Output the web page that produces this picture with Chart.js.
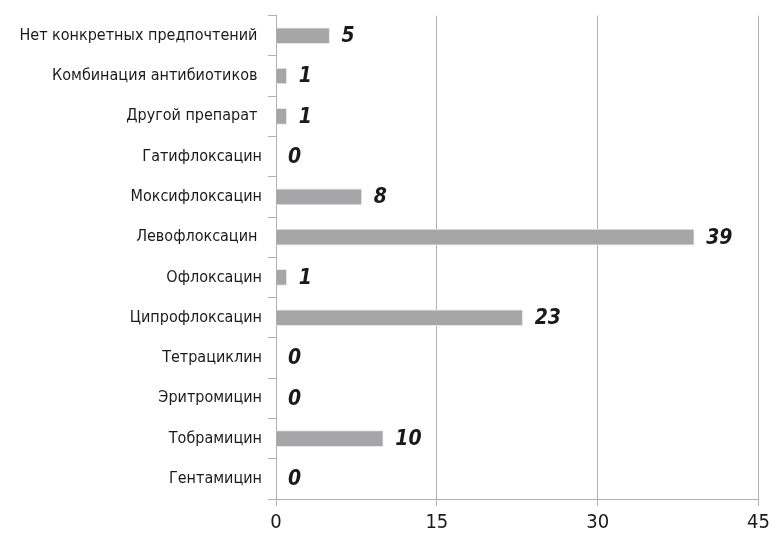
<!DOCTYPE html>
<html>
<head>
    <meta charset="UTF-8">
    <title>Антибиотики</title>
    <style>
        html, body { margin: 0; padding: 0; background: #fff; }
        #wrap { width: 775px; height: 535px; }
    </style>
</head>
<body>
<div id="wrap"><canvas id="myChart"></canvas></div>
<script src="https://cdn.jsdelivr.net/npm/chart.js@4/dist/chart.umd.min.js"></script>
<script>
    var labels = ['Нет конкретных предпочтений ', 'Комбинация антибиотиков ', 'Другой препарат ', 'Гатифлоксацин',
        'Моксифлоксацин', 'Левофлоксацин ', 'Офлоксацин', 'Ципрофлоксацин', 'Тетрациклин',
        'Эритромицин', 'Тобрамицин', 'Гентамицин'];
    var values = [5, 1, 1, 0, 8, 39, 1, 23, 0, 0, 10, 0];
    var xTicks = [0, 15, 30, 45];

    var fontFamily = '"DejaVu Sans Condensed", "Liberation Sans Narrow", Arial, sans-serif';

    // value labels at the end of each bar
    var valueLabels = {
        id: 'valueLabels',
        afterDatasetsDraw: function (chart) {
            var ctx = chart.ctx;
            var meta = chart.getDatasetMeta(0);
            ctx.save();
            ctx.font = 'italic bold 21px ' + fontFamily;
            ctx.fillStyle = '#1a1a1a';
            ctx.textAlign = 'left';
            ctx.textBaseline = 'middle';
            meta.data.forEach(function (bar, i) {
                ctx.fillText(String(values[i]), bar.x + 12, bar.y + 1);
            });
            ctx.restore();
        }
    };

    var ctx = document.getElementById('myChart').getContext('2d');
    new Chart(ctx, {
        type: 'bar',
        data: {
            labels: labels,
            datasets: [{
                data: values,
                backgroundColor: '#a6a6a8',
                borderColor: '#e8e8e8',
                borderWidth: 1,
                barThickness: 16
            }]
        },
        options: {
            indexAxis: 'y',
            responsive: true,
            maintainAspectRatio: false,
            animation: false,
            layout: { padding: { top: 12, right: 16, left: 8, bottom: -5 } },
            plugins: {
                legend: { display: false },
                tooltip: { enabled: false }
            },
            scales: {
                x: {
                    min: 0,
                    max: 45,
                    afterBuildTicks: function (axis) {
                        axis.ticks = xTicks.map(function (v) { return { value: v }; });
                    },
                    grid: {
                        color: '#b0b0b0',
                        lineWidth: 1,
                        tickLength: 7,
                        drawTicks: true
                    },
                    border: { color: '#b0b0b0', width: 1 },
                    ticks: {
                        color: '#1a1a1a',
                        font: { family: fontFamily, size: 20 },
                        padding: 5,
                        maxRotation: 0
                    }
                },
                y: {
                    afterFit: function (axis) { axis.width = 268; },
                    grid: {
                        offset: true,
                        drawOnChartArea: false,
                        color: '#b0b0b0',
                        tickLength: 8
                    },
                    border: { color: '#b0b0b0', width: 1 },
                    ticks: {
                        color: '#1a1a1a',
                        font: { family: fontFamily, size: 16 },
                        padding: 6
                    }
                }
            }
        },
        plugins: [valueLabels]
    });
</script>
</body>
</html>
